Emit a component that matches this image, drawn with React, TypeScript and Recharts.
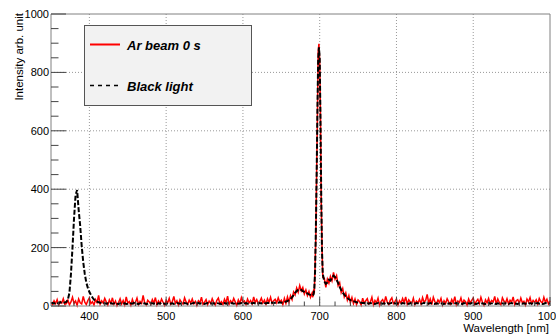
import { LineChart, Line, XAxis, YAxis, ReferenceLine } from 'recharts';

// wavelength grid [nm]
const wavelength = [
  350, 352, 354, 356, 358, 360, 362, 364, 366, 368,
  370, 372, 374, 376, 378, 380, 382, 384, 386, 388,
  390, 392, 394, 396, 398, 400, 402, 404, 406, 408,
  410, 412, 414, 416, 418, 420,
  422, 424, 426, 428, 430, 432, 434, 436, 438, 440,
  442, 444, 446, 448, 450, 452, 454, 456, 458, 460,
  462, 464, 466, 468, 470, 472, 474, 476, 478, 480,
  482, 484, 486, 488, 490, 492, 494, 496, 498, 500,
  502, 504, 506, 508, 510, 512, 514, 516, 518, 520,
  522, 524, 526, 528, 530, 532, 534, 536, 538, 540,
  542, 544, 546, 548, 550, 552, 554, 556, 558, 560,
  562, 564, 566, 568, 570, 572, 574, 576, 578, 580,
  582, 584, 586, 588, 590, 592, 594, 596, 598, 600,
  602, 604, 606, 608, 610, 612, 614, 616, 618, 620,
  622, 624, 626, 628, 630, 632, 634, 636, 638, 640,
  642, 644, 646, 648,
  650, 652, 654, 656, 658, 660, 662, 664, 666, 668,
  670, 672, 674, 676, 678, 680, 682, 684, 686, 688, 690,
  691, 692, 693, 694, 695, 696, 697, 698, 699, 700, 701, 702, 703, 704,
  706, 708, 710, 712, 714, 716, 718, 720, 722, 724,
  726, 728, 730, 732, 734, 736, 738, 740, 742, 744,
  746, 748, 750, 752, 754, 756, 758, 760,
  762, 764, 766, 768, 770, 772, 774, 776, 778, 780,
  782, 784, 786, 788, 790, 792, 794, 796, 798, 800,
  802, 804, 806, 808, 810, 812, 814, 816, 818, 820,
  822, 824, 826, 828, 830, 832, 834, 836, 838, 840,
  842, 844, 846, 848, 850, 852, 854, 856, 858, 860,
  862, 864, 866, 868, 870, 872, 874, 876, 878, 880,
  882, 884, 886, 888, 890, 892, 894, 896, 898, 900,
  902, 904, 906, 908, 910, 912, 914, 916, 918, 920,
  922, 924, 926, 928, 930, 932, 934, 936, 938, 940,
  942, 944, 946, 948, 950, 952, 954, 956, 958, 960,
  962, 964, 966, 968, 970, 972, 974, 976, 978, 980,
  982, 984, 986, 988, 990, 992, 994, 996, 998, 1000,
];

// "Ar beam 0 s"
const arBeam = [
  12, 5, 18, 8, 22, 3, 15, 10, 25, 6,
  8, 20, 4, 14, 30, 9, 17, 2, 24, 11,
  7, 33, 13, 5, 19, 28, 8, 15, 3, 22,
  12, 36, 6, 18, 10, 26,
  14, 3, 21, 9, 28, 6, 17, 1, 12, 25,
  7, 19, 4, 31, 10, 15, 2, 23, 8, 13,
  27, 5, 16, 9, 36, 11, 3, 20, 14, 6,
  22, 10, 29, 4, 17, 8, 24, 13, 2, 19,
  11, 26, 6, 15, 33, 9, 18, 3, 21, 12,
  7, 28, 14, 5, 20, 10, 24, 8, 16, 2,
  18, 11, 30, 6, 13, 22, 4, 17, 9, 25,
  12, 3, 19, 27, 8, 15, 5, 23, 11, 34,
  6, 18, 10, 26, 14, 2, 21, 9, 29, 13,
  17, 5, 24, 11, 19, 7, 31, 12, 22, 8,
  15, 27, 10, 20, 6, 25, 13, 30, 9, 18,
  23, 11, 28, 14,
  20, 4, 26, 9, 31, 14, 35, 22, 48, 38,
  62, 47, 70, 52, 63, 41, 55, 36, 50, 30, 44,
  30, 52, 48, 135, 240, 460, 640, 870, 898, 835, 660, 360, 205, 98,
  95, 64, 92, 78, 101, 86, 115, 92, 104, 70,
  80, 46, 60, 31, 45, 20, 36, 12, 29, 8,
  24, 5, 21, 15, 3, 27, 9, 18,
  25, 7, 14, 30, 4, 19, 11, 27, 2, 16,
  22, 9, 33, 13, 5, 20, 28, 8, 15, 24,
  3, 18, 10, 26, 12, 31, 6, 21, 14, 9,
  27, 4, 17, 11, 23, 7, 29, 13, 19, 40,
  10, 24, 5, 30, 15, 8, 21, 12, 26, 3,
  18, 9, 25, 14, 6, 22, 11, 32, 4, 17,
  12, 28, 7, 20, 15, 3, 24, 10, 19, 27,
  5, 16, 23, 9, 30, 13, 2, 21, 11, 26,
  8, 19, 14, 33, 6, 24, 12, 4, 28, 17,
  10, 25, 7, 20, 13, 31, 5, 18, 22, 9,
  27, 11, 16, 3, 24, 14, 29, 8, 19, 12,
  21, 6, 26, 15, 10, 30, 13, 23, 7, 18,
];

// "Black light"
const blackLight = [
  9, 11, 8, 12, 10, 9, 13, 10, 11, 12,
  14, 22, 45, 110, 200, 300, 380, 397, 330, 275,
  205, 150, 110, 80, 62, 48, 38, 29, 22, 18,
  15, 13, 11, 10, 9, 9,
  8, 9, 7, 10, 8, 9, 11, 8, 7, 9,
  10, 8, 9, 7, 8, 10, 9, 8, 11, 9,
  8, 7, 9, 10, 8, 9, 7, 8, 10, 9,
  9, 8, 10, 7, 9, 8, 11, 9, 8, 7,
  9, 10, 8, 9, 7, 8, 10, 9, 8, 9,
  8, 10, 9, 7, 9, 8, 9, 11, 8, 9,
  10, 8, 9, 8, 7, 9, 10, 8, 9, 8,
  9, 8, 10, 9, 8, 7, 9, 10, 8, 9,
  8, 9, 10, 8, 9, 11, 8, 9, 10, 8,
  9, 10, 8, 9, 10, 9, 11, 9, 10, 9,
  10, 9, 11, 10, 9, 11, 10, 12, 11, 10,
  11, 12, 11, 13,
  11, 12, 13, 15, 17, 20, 24, 30, 37, 45,
  51, 55, 57, 55, 51, 48, 45, 43, 40, 38, 36,
  36, 40, 60, 120, 260, 440, 660, 840, 886, 850, 640, 380, 190, 110,
  84, 76, 80, 90, 87, 97, 104, 99, 90, 79,
  66, 55, 46, 39, 33, 28, 23, 20, 18, 16,
  15, 13, 12, 11, 11, 10, 10, 9,
  9, 8, 10, 9, 8, 7, 9, 10, 8, 9,
  8, 9, 7, 10, 8, 9, 11, 8, 9, 8,
  9, 7, 8, 10, 9, 8, 9, 7, 10, 8,
  9, 8, 10, 9, 7, 8, 9, 11, 8, 9,
  8, 10, 9, 8, 7, 9, 8, 10, 9, 8,
  7, 9, 10, 8, 9, 8, 7, 9, 10, 8,
  9, 8, 7, 10, 9, 8, 9, 8, 10, 9,
  8, 7, 9, 10, 8, 9, 8, 7, 9, 10,
  8, 9, 10, 8, 7, 9, 8, 10, 9, 8,
  9, 8, 7, 9, 10, 8, 9, 8, 7, 9,
  10, 8, 9, 8, 9, 7, 10, 8, 9, 8,
  9, 10, 8, 9, 7, 8, 10, 9, 8, 9,
];

const xTicks = [
  360, 380, 400, 420, 440, 460, 480, 500, 520, 540, 560, 580, 600, 620, 640,
  660, 680, 700, 720, 740, 760, 780, 800, 820, 840, 860, 880, 900, 920, 940,
  960, 980, 1000,
];
const xLabels = [400, 500, 600, 700, 800, 900, 1000];
const yTicks = [
  0, 50, 100, 150, 200, 250, 300, 350, 400, 450, 500,
  550, 600, 650, 700, 750, 800, 850, 900, 950, 1000,
];
const yLabels = [0, 200, 400, 600, 800, 1000];
const xGrid = [400, 500, 600, 700, 800, 900];
const yGrid = [200, 400, 600, 800];

const data = wavelength.map((w, i) => ({ w, ar: arBeam[i], black: blackLight[i] }));

const FONT = '"Liberation Sans", Arial, Helvetica, sans-serif';
const LEFT = 51;
const BOTTOM = 306;
const FRAME = '#808080';

function XTick({ x, payload }: any) {
  const major = xLabels.includes(payload.value);
  return (
    <g>
      <line x1={x} x2={x} y1={BOTTOM} y2={BOTTOM - (major ? 9 : 4.5)} stroke="#444" />
      {major && (
        <text x={x} y={320} textAnchor="middle" fontSize={11} fontFamily={FONT} fill="#000">
          {payload.value}
        </text>
      )}
    </g>
  );
}

function YTick({ y, payload }: any) {
  const major = yLabels.includes(payload.value);
  return (
    <g>
      <line x1={LEFT} x2={LEFT + (major ? 15 : 7.5)} y1={y} y2={y} stroke="#444" />
      {major && (
        <text x={LEFT - 2} y={y + 4} textAnchor="end" fontSize={11} fontFamily={FONT} fill="#000">
          {payload.value}
        </text>
      )}
    </g>
  );
}

export default function App() {
  return (
    <div style={{ position: 'absolute', left: 0, top: 0, width: 556, height: 336, background: '#fff' }}>
      <LineChart width={556} height={336} data={data} margin={{ top: 14, right: 6, bottom: 0, left: 0 }}>
        <XAxis
          dataKey="w"
          type="number"
          domain={[350, 1000]}
          ticks={xTicks}
          interval={0}
          height={30}
          tickLine={false}
          tick={<XTick />}
          axisLine={{ stroke: FRAME }}
        />
        <YAxis
          type="number"
          domain={[0, 1000]}
          ticks={yTicks}
          interval={0}
          width={51}
          tickLine={false}
          tick={<YTick />}
          axisLine={{ stroke: FRAME }}
        />
        {xGrid.map((v) => (
          <ReferenceLine key={'gx' + v} x={v} stroke="#999" strokeDasharray="1 2" />
        ))}
        {yGrid.map((v) => (
          <ReferenceLine key={'gy' + v} y={v} stroke="#999" strokeDasharray="1 2" />
        ))}
        <ReferenceLine y={1000} stroke={FRAME} />
        <ReferenceLine x={1000} stroke={FRAME} />
        <Line
          dataKey="ar"
          type="linear"
          stroke="#ff0000"
          strokeWidth={1.5}
          dot={false}
          isAnimationActive={false}
        />
        <Line
          dataKey="black"
          type="linear"
          stroke="#000"
          strokeWidth={2}
          strokeDasharray="5 2"
          dot={false}
          isAnimationActive={false}
        />
      </LineChart>
      <svg
        width={556}
        height={336}
        style={{ position: 'absolute', left: 0, top: 0, pointerEvents: 'none' }}
        fontFamily={FONT}
      >
        <rect x={84.5} y={25.5} width={167} height={80} fill="#f2f2f2" stroke="#555" />
        <line x1={90} x2={120} y1={44.5} y2={44.5} stroke="#ff0000" strokeWidth={2} />
        <text x={127} y={50} fontSize={13} fontWeight="bold" fontStyle="italic" fill="#000">
          Ar beam 0 s
        </text>
        <line x1={90} x2={120} y1={85.5} y2={85.5} stroke="#000" strokeWidth={1.5} strokeDasharray="4 4" />
        <text x={127} y={91} fontSize={13} fontWeight="bold" fontStyle="italic" fill="#000">
          Black light
        </text>
        <text x={23} y={13} transform="rotate(-90 23 13)" textAnchor="end" fontSize={11.5} fill="#000">
          Intensity arb. unit
        </text>
        <text x={549} y={332} textAnchor="end" fontSize={11.5} fill="#000">
          Wavelength [nm]
        </text>
      </svg>
    </div>
  );
}
